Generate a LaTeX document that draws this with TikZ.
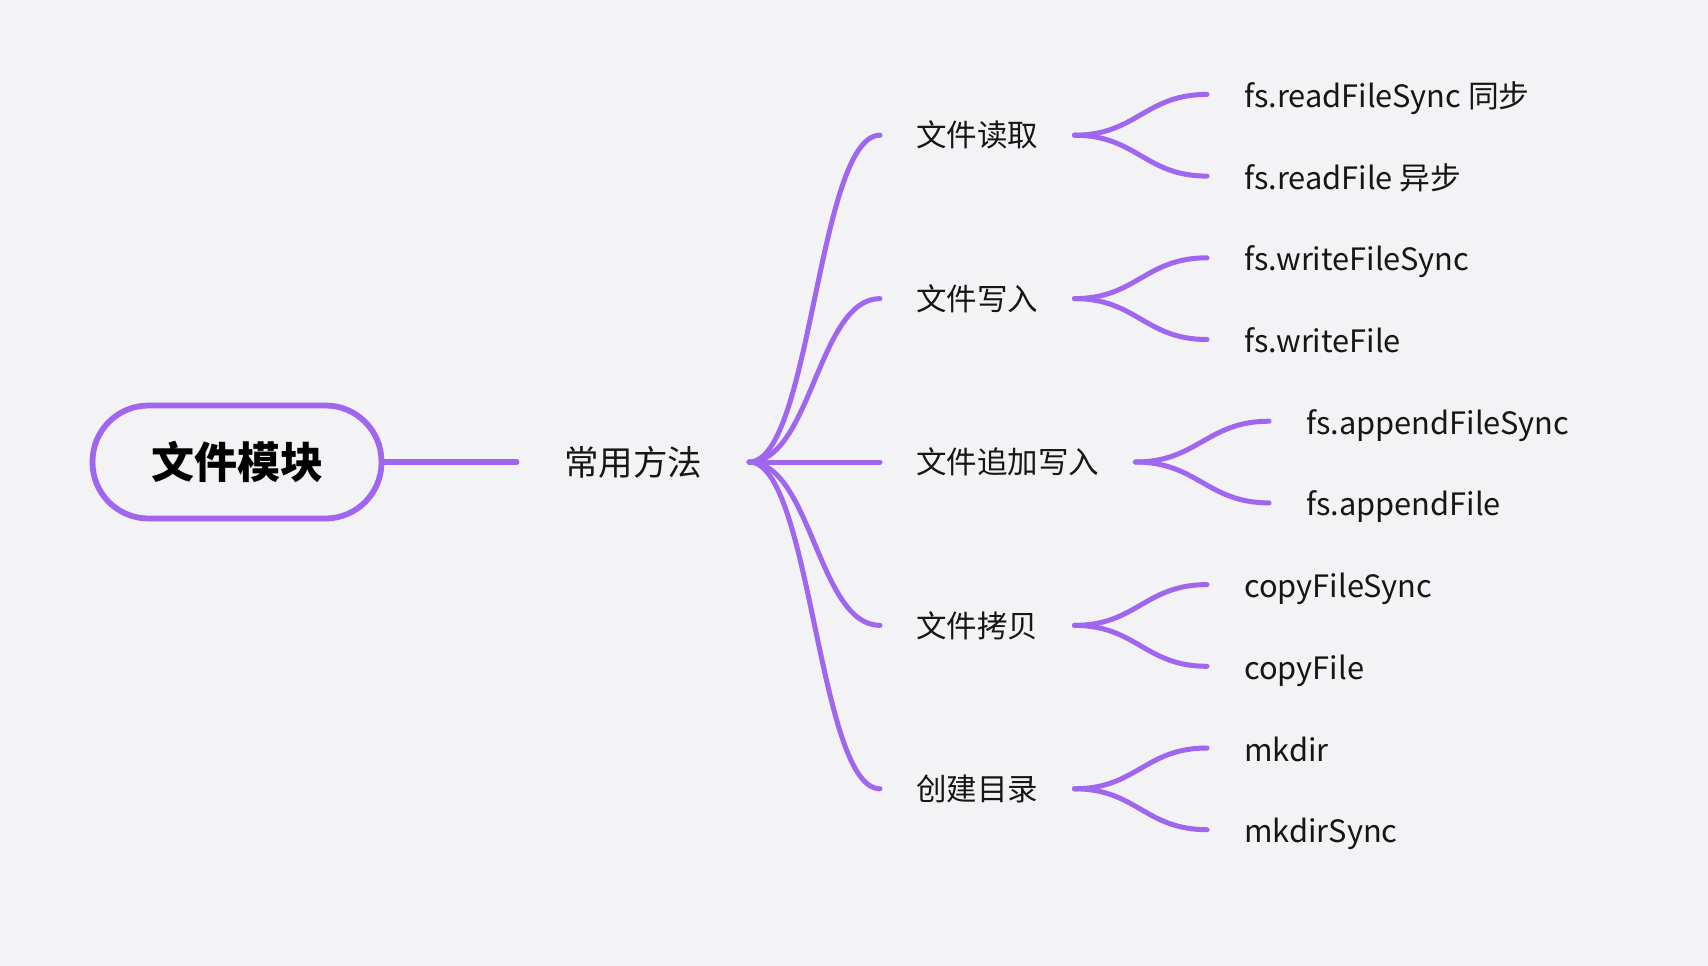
\documentclass[tikz,border=0pt]{standalone}
\usepackage{fontspec}
\setmainfont{Noto Sans CJK SC}
\definecolor{bg}{RGB}{243,243,246}
\definecolor{pur}{RGB}{160,102,240}
\definecolor{ink}{RGB}{22,22,22}
\begin{document}
\begin{tikzpicture}[x=1pt,y=-1pt,
  edge/.style={draw=pur,line width=5.3pt,line cap=round},
  l1/.style={anchor=west,inner xsep=36pt,inner ysep=2pt,font=\fontsize{30.5}{36}\selectfont,text=ink},
  leaf/.style={anchor=west,inner xsep=37pt,inner ysep=2pt,text height=27pt,text depth=1pt,font=\fontsize{30.8}{36}\selectfont,text=ink},
  rootbox/.style={draw=pur,line width=5.8pt,rounded corners=56pt,minimum width=289pt,minimum height=113pt,font=\fontsize{43}{50}\selectfont\bfseries,text=black},
  midbox/.style={minimum width=232pt,inner xsep=0pt,font=\fontsize{34.5}{40}\selectfont,text=ink},
  fan/.style={edge,line width=5pt}
]
\fill[bg] (0,0) rectangle (1708,966);
\useasboundingbox (0,0) rectangle (1708,966);

\node[rootbox] (root) at (237,462) {文件模块};
\node[midbox] (mid) at (633,462) {常用方法};

\node[l1] (a) at (880,135.2) {文件读取};
\node[l1] (b) at (880,298.6) {文件写入};
\node[l1] (c) at (880,462) {文件追加写入};
\node[l1] (d) at (880,625.4) {文件拷贝};
\node[l1] (e) at (880,788.8) {创建目录};

\node[leaf] (a1) at (1207,94.4) {fs.readFileSync 同步};
\node[leaf] (a2) at (1207,176.1) {fs.readFile 异步};
\node[leaf] (b1) at (1207,257.8) {fs.writeFileSync};
\node[leaf] (b2) at (1207,339.5) {fs.writeFile};
\node[leaf] (c1) at (1269,421.2) {fs.appendFileSync};
\node[leaf] (c2) at (1269,502.9) {fs.appendFile};
\node[leaf] (d1) at (1207,584.6) {copyFileSync};
\node[leaf] (d2) at (1207,666.3) {copyFile};
\node[leaf] (e1) at (1207,748.0) {mkdir};
\node[leaf] (e2) at (1207,829.7) {mkdirSync};

\draw[edge] (root.east) -- (mid.west);
\foreach \n in {a,b,c,d,e}
  \draw[fan] (mid.east) .. controls +(62,0) and +(-62,0) .. (\n.west);
\foreach \p in {a,b,c,d,e}{
  \draw[fan] (\p.east) .. controls +(62,0) and +(-62,0) .. (\p1.west);
  \draw[fan] (\p.east) .. controls +(62,0) and +(-62,0) .. (\p2.west);
}
\end{tikzpicture}
\end{document}
